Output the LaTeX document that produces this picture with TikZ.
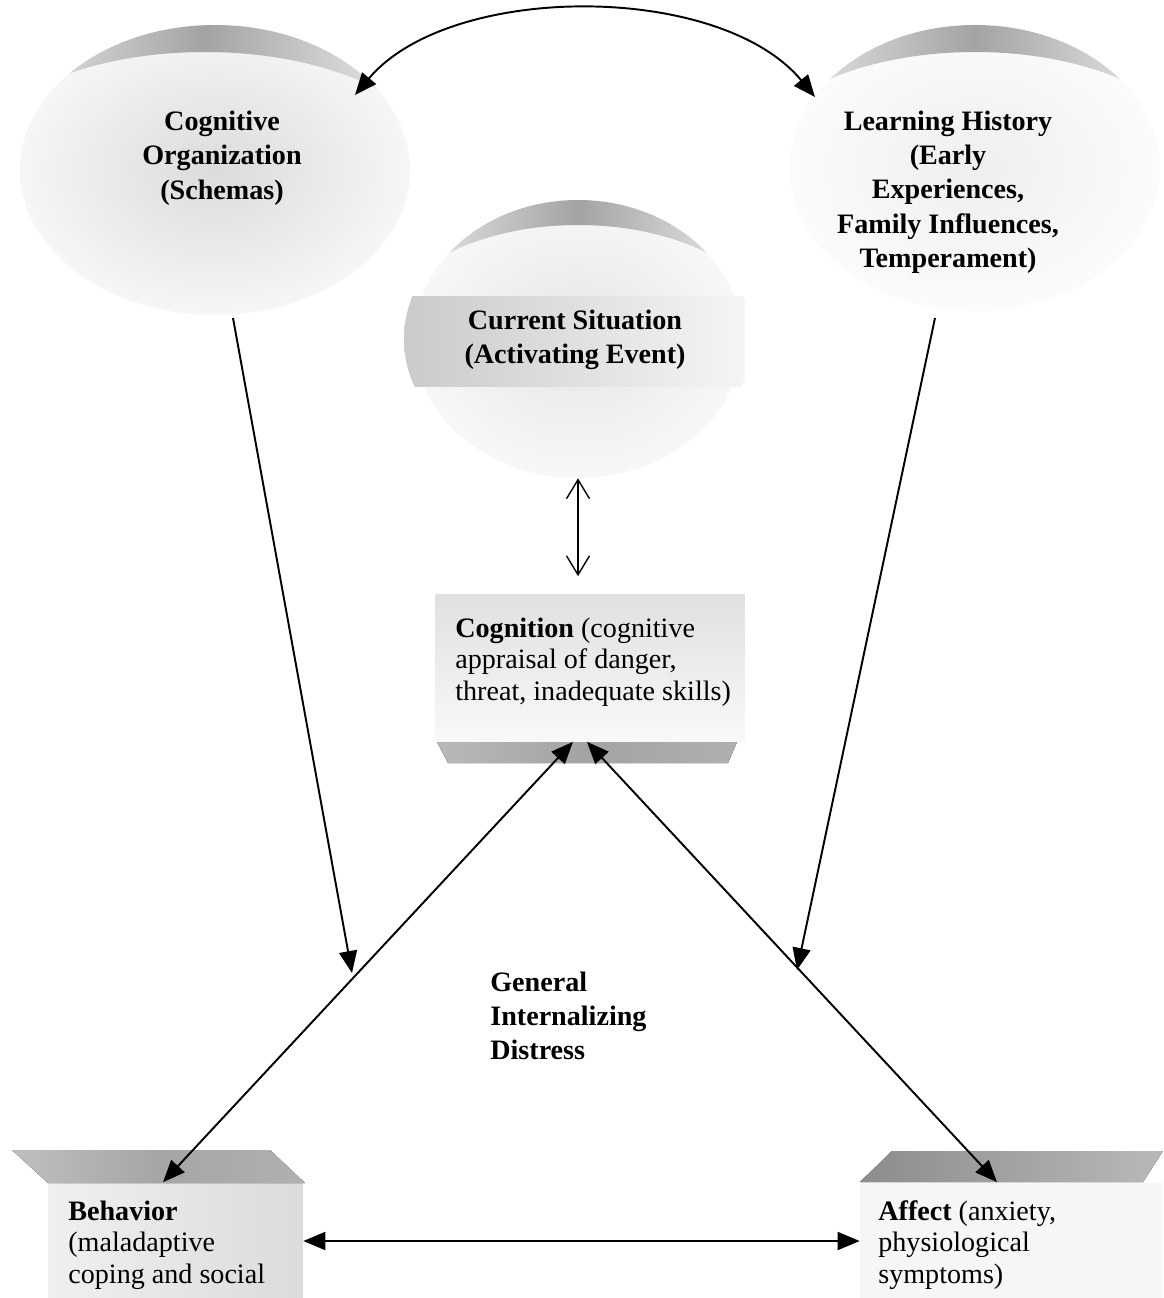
\documentclass[tikz,border=0pt]{standalone}
\usepackage{fontspec}
\setmainfont{Liberation Serif}
\usetikzlibrary{arrows.meta,shapes.geometric,calc}

\begin{document}
\begin{tikzpicture}[x=0.02cm,y=-0.02cm,>={Triangle[length=0.44cm,width=0.36cm]}]
             \tikzstyle{heading}=[font=\fontsize{16}{19.5}\selectfont\bfseries,align=center,inner sep=0pt]
             \tikzstyle{boxtext}=[font=\fontsize{16}{18}\selectfont,align=left,inner sep=0pt,anchor=west]
             \tikzstyle{blob}=[ellipse,draw=none,inner sep=0pt]
             \tikzstyle{box}=[rectangle,draw=none,inner sep=0pt]
             \tikzstyle{link}=[line width=1.1pt]
             \tikzstyle{crest}=[even odd rule,left color=gray!6,right color=gray!6,middle color=gray!72]
             \useasboundingbox (0,0) rectangle (1163,1298);
             \clip (0,0) rectangle (1163,1298);
             % ellipses
             \node (cogorg) [blob,inner color=gray!28,outer color=gray!7,minimum width=7.8cm,minimum height=5.8cm] at (215,170) {};
             \begin{scope}
               \clip (215,170) ellipse [x radius=195,y radius=145];
               \clip (0,0) rectangle (430,150);
               \shade [crest] (-30,-10) rectangle (440,180) (205,174) ellipse [x radius=240,y radius=122];
             \end{scope}
             \node (lh) [blob,inner color=gray!13,outer color=gray!3,minimum width=7.4cm,minimum height=5.72cm] at (975,168) {};
             \begin{scope}
               \clip (975,168) ellipse [x radius=185,y radius=143];
               \clip (770,0) rectangle (1180,150);
               \shade [crest] (750,-10) rectangle (1200,180) (975,172) ellipse [x radius=230,y radius=120];
             \end{scope}
             \node (cursit) [blob,inner color=gray!20,outer color=gray!6,minimum width=6.56cm,minimum height=5.56cm] at (578,339) {};
             \begin{scope}
               \clip (578,339) ellipse [x radius=164,y radius=139];
               \clip (400,190) rectangle (760,320);
               \shade [crest] (390,180) rectangle (766,350) (578,343) ellipse [x radius=200,y radius=118];
             \end{scope}
             \begin{scope}
               \clip (578,339) ellipse [x radius=174,y radius=139];
               \shade [left color=gray!42,right color=gray!8] (395,296) rectangle (745,386);
             \end{scope}
             \node [heading] (cogorgtxt) at (222,158) {Cognitive\\Organization\\(Schemas)};
             \node [heading] (lhtxt) at (948,192) {Learning History\\(Early\\Experiences,\\Family Influences,\\Temperament)};
             \node [heading] (cursittxt) at (575,340) {Current Situation\\(Activating Event)};
             % boxes
             \node (cogn) [box,top color=gray!24,bottom color=gray!5,minimum width=6.2cm,minimum height=2.94cm] at (590,668) {};
             \fill [left color=gray!55,right color=gray!62,middle color=gray!72] (437,742) -- (737,742) -- (728,763) -- (448,763) -- cycle;
             \node [boxtext] (cogntxt) at (455,662) {\textbf{Cognition} (cognitive\\appraisal of danger,\\threat, inadequate skills)};
             \node (behav) [box,left color=gray!12,right color=gray!28,minimum width=5.1cm,minimum height=2.34cm] at (175.5,1241) {};
             \fill [left color=gray!50,right color=gray!62,middle color=gray!70] (12,1150) -- (270,1150) -- (305,1183) -- (48,1183) -- cycle;
             \node [boxtext] (behavtxt) at (68,1245) {\textbf{Behavior}\\(maladaptive\\coping and social};
             \node (affect) [box,fill=gray!7,minimum width=6.06cm,minimum height=2.34cm] at (1011.5,1241) {};
             \fill [left color=gray!90,right color=gray!55] (892,1151) -- (1163,1151) -- (1143,1182) -- (860,1182) -- cycle;
             \node [boxtext] (affecttxt) at (878,1245) {\textbf{Affect} (anxiety,\\physiological\\symptoms)};
             \node [boxtext,font=\fontsize{16}{19.5}\selectfont\bfseries] (gid) at (490,1016) {General\\Internalizing\\Distress};
             % end points
             \coordinate (cogorgL) at (355,95);
             \coordinate (lhR) at (815,97);
             \coordinate (cogorgout) at (233,318);
             \coordinate (lhout) at (935,318);
             \coordinate (behavend) at (352,973);
             \coordinate (affectend) at (797,970);
             \coordinate (cognL) at ([xshift=-0.34cm]cogn.south);
             \coordinate (cognR) at ([xshift=-0.06cm]cogn.south);
             \coordinate (behavtop) at ([xshift=-0.25cm]behav.north);
             \coordinate (affecttop) at ([xshift=-0.29cm]affect.north);
             % arrows
             \draw [link,<->] (cogorgL) .. controls (450,-18) and (720,-18) .. (lhR);
             \draw [link,->] (cogorgout) -- (behavend);
             \draw [link,->] (lhout) -- (affectend);
             \draw [line width=0.8pt,{Straight Barb[length=0.38cm,width=0.46cm]}-{Straight Barb[length=0.38cm,width=0.46cm]}] (cursit.south) -- ([yshift=0.36cm]cogn.north -| cursit.south);
             \draw [link,<->] (behavtop) -- (cognL);
             \draw [link,<->] (affecttop) -- (cognR);
             \draw [link,<->] (behav.east) -- (affect.west);
\end{tikzpicture}
\end{document}
